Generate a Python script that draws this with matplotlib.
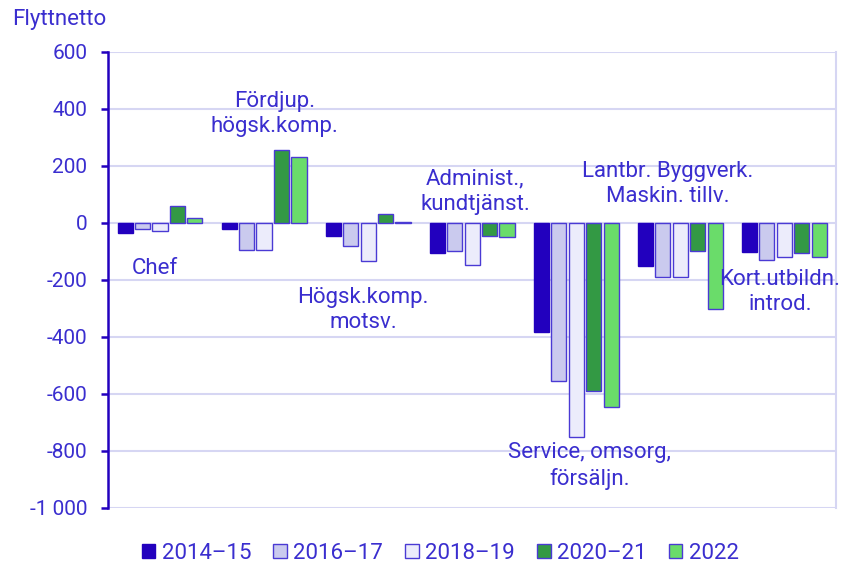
import numpy as np
import matplotlib.pyplot as plt
from matplotlib.ticker import FuncFormatter
from matplotlib.patches import Patch

plt.rcParams['font.family'] = ['Roboto', 'DejaVu Sans']

# Flyttnetto per yrkesgrupp och period
categories = ['Chef', 'Fördjup.\nhögsk.komp.', 'Högsk.komp.\nmotsv.', 'Administ.,\nkundtjänst.',
              'Service, omsorg,\nförsäljn.', 'Lantbr. Byggverk.\nMaskin. tillv.', 'Kort.utbildn.\nintrod.']
periods = ['2014\u201315', '2016\u201317', '2018\u201319', '2020\u201321', '2022']
v_2014_15 = [-35, -21, -45, -105, -383, -150, -101]
v_2016_17 = [-21, -95, -81, -98, -554, -189, -130]
v_2018_19 = [-27, -95, -133, -147, -751, -189, -120]
v_2020_21 = [60, 256, 32, -45, -589, -98, -107]
v_2022 = [18, 232, 5, -49, -645, -302, -121]
series = [v_2014_15, v_2016_17, v_2018_19, v_2020_21, v_2022]

# Placering av kategoritexterna (x i gruppindex, y i datavärden)
label_x = [-0.05, 1.1, 1.95, 3.03, 4.13, 4.88, 5.96]
label_y = [-158, 382, -305, 109, -853, 137, -242]

fill_colors = ['#2200BE', '#CACAEE', '#ECECFB', '#339944', '#6ADC6A']
edge_color = '#4A3AD4'
text_color = '#3A2ECF'
axis_color = '#2200BE'
grid_color = '#D6D6F3'

fig = plt.figure(figsize=(8.55, 5.65), dpi=100)
ax = fig.add_axes([0.1263, 0.1009, 0.8517, 0.8071])

x = np.arange(len(categories))
step = 0.168
width = 0.145
for i, vals in enumerate(series):
    offs = (i - 2) * step
    ec = fill_colors[0] if i == 0 else edge_color
    ax.bar(x + offs, vals, width=width, color=fill_colors[i], edgecolor=ec,
           linewidth=1.0, zorder=3)

for cx, cy, txt in zip(label_x, label_y, categories):
    ax.text(cx, cy, txt, ha='center', va='center', fontsize=16,
            color=text_color, linespacing=1.25, zorder=4)

ax.set_xlim(-0.5, len(categories) - 0.5)
ax.set_ylim(-1000, 600)
ax.set_yticks(np.arange(-1000, 601, 200))
ax.yaxis.set_major_formatter(FuncFormatter(
    lambda v, p: f'{int(v):,}'.replace(',', ' ')))
ax.set_xticks([])

ax.grid(axis='y', color=grid_color, linewidth=1.5, zorder=0)
ax.set_axisbelow(True)
for s in ['top', 'bottom']:
    ax.spines[s].set_visible(False)
ax.spines['right'].set_color(grid_color)
ax.spines['right'].set_linewidth(1.5)
ax.spines['left'].set_color(axis_color)
ax.spines['left'].set_linewidth(1.8)
ax.tick_params(axis='y', colors=axis_color, labelcolor=text_color, length=5,
               width=1.8, pad=10, labelsize=15)

fig.text(0.014, 0.965, 'Flyttnetto', fontsize=16, color=text_color,
         ha='left', va='center')

handles = [Patch(facecolor=fill_colors[i],
                 edgecolor=fill_colors[0] if i == 0 else edge_color,
                 linewidth=1.0) for i in range(len(periods))]
fig.legend(handles, periods, loc='center', bbox_to_anchor=(0.515, 0.02),
           ncol=5, frameon=False, fontsize=16, labelcolor=text_color,
           handlelength=0.6, handleheight=0.6, handletextpad=0.3,
           columnspacing=1.0, borderpad=0.0)

fig.savefig('out.png', dpi=100, facecolor='white')
